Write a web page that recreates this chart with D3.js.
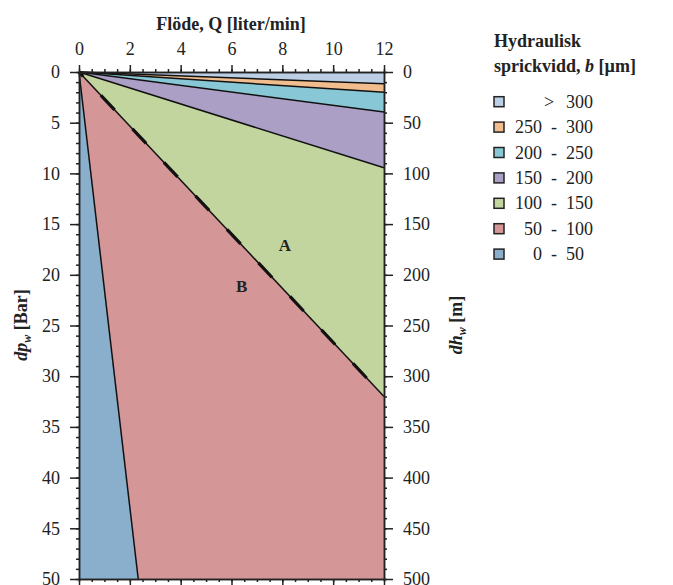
<!DOCTYPE html>
<html><head><meta charset="utf-8">
<script src="https://cdn.jsdelivr.net/npm/d3@7"></script>
<style>
body{margin:0;background:#fff;}
svg{display:block;}
svg text{font-family:"Liberation Serif","Times New Roman",serif;}
</style></head>
<body><svg id="c" width="673" height="585"></svg>
<script>
// Data
const classes = ["> 300","250 - 300","200 - 250","150 - 200","100 - 150","50 - 100","0 - 50"];
const colors  = ["#bccfe4","#f2bd8e","#88c8d6","#ab9fc5","#c3d59f","#d49697","#8aafcc"];
// boundary lines from the origin (b = 300, 250, 200, 150, 100, 50 µm): endpoint [Q, dp]
const boundaryLabels = ["300","250","200","150","100","50"];
const boundaryQ  = [12, 12, 12, 12, 12, 2.33];
const boundaryDp = [1.15, 2.0, 3.95, 9.45, 32, 50];
const xTicks = [0,2,4,6,8,10,12];
const yTicks = [0,5,10,15,20,25,30,35,40,45,50];
const y2Ticks = [0,50,100,150,200,250,300,350,400,450,500];
const areaLabels = [{t:"A", q:8.1, dp:17.1},{t:"B", q:6.4, dp:21.1}];

const svg = d3.select("#c");
const x = d3.scaleLinear().domain([0,12]).range([79,384]);
const y = d3.scaleLinear().domain([0,50]).range([72,579]);
const y2 = d3.scaleLinear().domain([0,500]).range([72,579]);

// plot border walked clockwise from top-right, including boundary endpoints
const border = [[12,0]];
boundaryQ.forEach((q,i)=>{ if (q===12) border.push([q,boundaryDp[i]]); });
border.push([12,50]);
boundaryQ.forEach((q,i)=>{ if (q!==12) border.push([q,boundaryDp[i]]); });
border.push([0,50]);
// border index of each boundary end
const ends = boundaryQ.map((q,i)=>border.findIndex(p=>p[0]===q && p[1]===boundaryDp[i]));
const starts = [0].concat(ends);
const stops = ends.concat([border.length-1]);
const regions = classes.map((c,i)=>{
  const pts=[[0,0]];
  for(let k=starts[i];k<=stops[i];k++) pts.push(border[k]);
  return pts;
});
const line = d3.line().x(d=>x(d[0])).y(d=>y(d[1]));
svg.append("g").selectAll("path").data(regions).join("path")
  .attr("d", d=>line(d)+"Z")
  .attr("fill",(d,i)=>colors[i]).attr("stroke","none");

// boundary lines
const bl = svg.append("g");
boundaryQ.forEach((q,i)=>{
  bl.append("path").attr("d", line([[0,0],[q,boundaryDp[i]]]))
    .attr("stroke","#111").attr("stroke-width",1.5).attr("fill","none");
});
// dashed overlay on 100 boundary
bl.append("path").attr("d", line([[0,0],[boundaryQ[4],boundaryDp[4]]]))
  .attr("stroke","#111").attr("stroke-width",3.2).attr("fill","none")
  .attr("stroke-dasharray","20,26").attr("stroke-dashoffset",14);

// area labels
svg.append("g").selectAll("text").data(areaLabels).join("text")
  .attr("x",d=>x(d.q)).attr("y",d=>y(d.dp)).attr("dy","0.35em")
  .attr("text-anchor","middle").attr("font-weight","bold").attr("font-size",17)
  .attr("fill","#222").text(d=>d.t);

// axes
function styleAxis(g){
  g.attr("font-family",null).attr("font-size",null);
  g.select(".domain").attr("stroke","#222").attr("stroke-width",1.5);
  g.selectAll(".tick line").attr("stroke","#222").attr("stroke-width",1.5);
  g.selectAll(".tick text").attr("fill","#222").attr("font-size",18)
    .attr("font-family","'Liberation Serif','Times New Roman',serif");
}
const minorX = d3.range(0,12.01,0.5);
const minorY = d3.range(0,50.01,1);
const minorY2 = d3.range(0,500.1,10);

svg.append("g").attr("transform","translate(0,72)")
  .call(d3.axisTop(x).tickValues(minorX).tickSize(3).tickFormat("").tickSizeOuter(0)).call(styleAxis);
svg.append("g").attr("transform","translate(0,72)")
  .call(d3.axisTop(x).tickValues(xTicks).tickSize(7).tickPadding(10).tickSizeOuter(0).tickFormat(d3.format("d"))).call(styleAxis);
svg.append("g").attr("transform","translate(0,579)")
  .call(d3.axisBottom(x).tickValues(minorX).tickSize(3).tickFormat("").tickSizeOuter(0)).call(styleAxis);
svg.append("g").attr("transform","translate(0,579)")
  .call(d3.axisBottom(x).tickValues(xTicks).tickSize(7).tickFormat("").tickSizeOuter(0)).call(styleAxis);

svg.append("g").attr("transform","translate(79,0)")
  .call(d3.axisLeft(y).tickValues(minorY).tickSize(3).tickFormat("").tickSizeOuter(0)).call(styleAxis);
svg.append("g").attr("transform","translate(79,0)")
  .call(d3.axisLeft(y).tickValues(yTicks).tickSize(9).tickPadding(10).tickSizeOuter(0).tickFormat(d3.format("d"))).call(styleAxis);
svg.append("g").attr("transform","translate(384,0)")
  .call(d3.axisRight(y2).tickValues(minorY2).tickSize(3).tickFormat("").tickSizeOuter(0)).call(styleAxis);
svg.append("g").attr("transform","translate(384,0)")
  .call(d3.axisRight(y2).tickValues(y2Ticks).tickSize(9).tickPadding(10).tickSizeOuter(0).tickFormat(d3.format("d"))).call(styleAxis);

// titles
svg.append("text").attr("x",231).attr("y",30).attr("text-anchor","middle")
  .attr("font-weight","bold").attr("font-size",18).attr("fill","#222").text("Flöde, Q [liter/min]");

const lt = svg.append("text").attr("transform","translate(27,325) rotate(-90)")
  .attr("text-anchor","middle").attr("font-weight","bold").attr("font-size",18).attr("fill","#222");
lt.append("tspan").attr("font-style","italic").text("dp");
lt.append("tspan").attr("font-style","italic").attr("font-size",12).attr("dy",4).text("w");
lt.append("tspan").attr("dy",-4).text(" [Bar]");

const rt = svg.append("text").attr("transform","translate(462,325) rotate(-90)")
  .attr("text-anchor","middle").attr("font-weight","bold").attr("font-size",18).attr("fill","#222");
rt.append("tspan").attr("font-style","italic").text("dh");
rt.append("tspan").attr("font-style","italic").attr("font-size",12).attr("dy",4).text("w");
rt.append("tspan").attr("dy",-4).text(" [m]");

// legend
const lg = svg.append("g");
lg.append("text").attr("x",494).attr("y",47).attr("font-weight","bold").attr("font-size",18).attr("fill","#222").text("Hydraulisk");
const l2 = lg.append("text").attr("x",494).attr("y",72).attr("font-weight","bold").attr("font-size",18).attr("fill","#222");
l2.append("tspan").text("sprickvidd, ");
l2.append("tspan").attr("font-style","italic").text("b");
l2.append("tspan").text(" [µm]");

const items = lg.selectAll("g.item").data(classes).join("g").attr("class","item")
  .attr("transform",(d,i)=>`translate(0,${101.7+i*25.4})`);
items.append("rect").attr("x",494).attr("y",-5).attr("width",10).attr("height",10)
  .attr("fill",(d,i)=>colors[i]).attr("stroke","#222").attr("stroke-width",1.5);
items.each(function(d){
  const g = d3.select(this);
  const parts = d.split(" - ");
  if (parts.length===2){
    g.append("text").attr("x",542).attr("y",6).attr("text-anchor","end").attr("font-size",18).attr("fill","#222").text(parts[0]);
    g.append("text").attr("x",554).attr("y",6).attr("text-anchor","middle").attr("font-size",18).attr("fill","#222").text("-");
    g.append("text").attr("x",566).attr("y",6).attr("text-anchor","start").attr("font-size",18).attr("fill","#222").text(parts[1]);
  } else {
    const p = d.split(" ");
    g.append("text").attr("x",549).attr("y",6).attr("text-anchor","middle").attr("font-size",18).attr("fill","#222").text(p[0]);
    g.append("text").attr("x",566).attr("y",6).attr("text-anchor","start").attr("font-size",18).attr("fill","#222").text(p[1]);
  }
});
</script></body></html>
